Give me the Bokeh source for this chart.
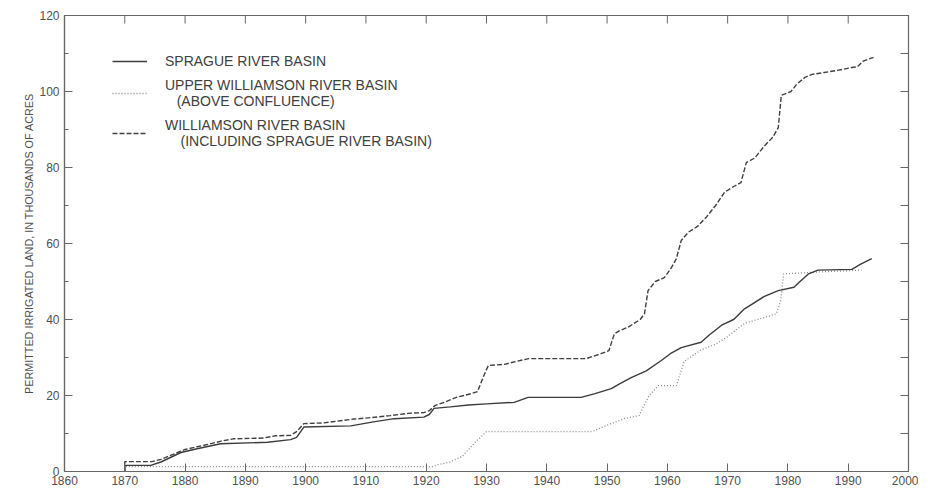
import math
from bokeh.plotting import figure
from bokeh.models import FixedTicker, Legend, LegendItem, ColumnDataSource, Title
from bokeh.embed import file_html
from bokeh.resources import INLINE

# ---- data ----
williamson_years = [1870, 1870, 1874.5, 1876, 1878, 1880, 1882, 1884, 1886, 1888, 1893, 1895,
                    1897.5, 1898.5, 1899.7, 1903, 1905, 1908, 1911, 1914, 1917, 1919.6, 1920.5,
                    1921.5, 1923, 1925, 1927.5, 1928.5, 1929.5, 1930.3, 1933, 1935, 1937, 1946.5,
                    1949, 1950.3, 1951.2, 1952, 1953.5, 1955.5, 1956.2, 1956.8, 1958, 1959.5,
                    1960.7, 1961.5, 1962.3, 1963.5, 1965, 1966.5, 1968, 1969.5, 1971, 1972.2,
                    1973.1, 1974.5, 1976, 1977.5, 1978.4, 1978.9, 1980.5, 1981.5, 1982.8, 1984,
                    1986, 1988, 1990.6, 1991.5, 1992.5, 1994.2]
williamson_vals = [0, 2.6, 2.6, 3.2, 4.5, 5.8, 6.5, 7.2, 8.0, 8.6, 8.8, 9.4,
                   9.5, 10.5, 12.6, 12.8, 13.2, 13.8, 14.2, 14.7, 15.3, 15.5, 16.0,
                   17.4, 18.2, 19.5, 20.5, 21.0, 25.0, 27.9, 28.2, 29.0, 29.7, 29.7,
                   31.0, 31.8, 36.2, 37.0, 38.0, 40.0, 41.5, 47.6, 50.0, 51.0,
                   53.7, 56.0, 60.8, 63.0, 64.5, 67.0, 70.0, 73.5, 75.0, 76.0,
                   81.3, 82.5, 85.5, 88.0, 90.5, 99.0, 100.0, 102.0, 103.7, 104.5,
                   105.0, 105.5, 106.3, 106.5, 108.0, 109.0]

sprague_years = [1870, 1870, 1874.3, 1876, 1879.3, 1882, 1885.9, 1893.7, 1897.5, 1898.5, 1899.7,
                 1907.5, 1911, 1914.7, 1919.6, 1920.5, 1921.3, 1924, 1927, 1930, 1934.6, 1936.9,
                 1945.7, 1948, 1950.7, 1952, 1954, 1956.5, 1959, 1960.5, 1962.3, 1965.6, 1967,
                 1969, 1971, 1972.8, 1974, 1976, 1978.4, 1981, 1982, 1983.4, 1985, 1990.6, 1992,
                 1993.9]
sprague_vals = [0, 1.6, 1.6, 2.5, 5.0, 6.0, 7.3, 7.7, 8.4, 9.0, 11.7,
                12.0, 13.0, 13.9, 14.3, 15.0, 16.6, 17.0, 17.5, 17.8, 18.2, 19.5,
                19.5, 20.5, 21.8, 23.0, 24.7, 26.5, 29.2, 31.0, 32.6, 34.0, 36.0,
                38.5, 40.0, 42.8, 44.0, 46.0, 47.6, 48.5, 50.0, 52.0, 53.0, 53.2, 54.5,
                56.0]

upper_years = [1870, 1870, 1921, 1922, 1924, 1926, 1928, 1930, 1947.5, 1949, 1951, 1953, 1955.3,
               1956, 1957, 1958.5, 1961.5, 1962.8, 1965.6, 1968, 1970, 1972.8, 1975, 1978.1,
               1978.8, 1979.3, 1985, 1992.2]
upper_vals = [0, 1.3, 1.3, 1.8, 2.5, 4.0, 7.5, 10.5, 10.5, 11.5, 12.8, 14.0, 14.7,
              17.0, 20.0, 22.6, 22.6, 29.0, 32.0, 33.5, 35.5, 39.0, 40.0, 41.5,
              45.0, 52.0, 52.5, 53.0]

x_ticks = [1860, 1870, 1880, 1890, 1900, 1910, 1920, 1930, 1940, 1950, 1960, 1970, 1980, 1990, 2000]
y_ticks = [0, 20, 40, 60, 80, 100, 120]
y_minor = [10, 30, 50, 70, 90, 110]
y_right_ticks = [0, 10, 20, 30, 40, 50, 60, 70, 80, 90, 100, 110, 120]
x_min, x_max = 1860, 2000
y_min, y_max = 0, 120

label_sprague = "SPRAGUE RIVER BASIN"
label_upper = "UPPER WILLIAMSON RIVER BASIN\n\u00a0\u00a0\u00a0(ABOVE CONFLUENCE)"
label_will = "WILLIAMSON RIVER BASIN\n\u00a0\u00a0\u00a0\u00a0(INCLUDING SPRAGUE RIVER BASIN)"
y_title = "PERMITTED IRRIGATED LAND, IN THOUSANDS OF ACRES"

FONT = "Liberation Sans"
AX = "#666666"
TXT = "#505050"
W, H = 918, 489

p = figure(width=W, height=H, x_range=(x_min, x_max), y_range=(y_min, y_max),
           output_backend="svg", toolbar_location=None,
           min_border_left=64, min_border_right=10, min_border_top=15, min_border_bottom=18,
           background_fill_color="white", border_fill_color="white")
p.grid.visible = False
p.outline_line_color = AX
p.outline_line_width = 1.2

# bottom axis
xa = p.xaxis[0]
xa.ticker = FixedTicker(ticks=x_ticks, minor_ticks=[])
xa.major_tick_in = 8
xa.major_tick_out = 0
xa.minor_tick_in = 0
xa.minor_tick_out = 0
xa.major_label_standoff = 4
xa.major_label_text_font = FONT
xa.major_label_text_font_size = "12px"
xa.major_label_text_color = TXT
xa.axis_line_color = AX
xa.major_tick_line_color = AX
xa.axis_line_width = 1.2

# left axis
ya = p.yaxis[0]
ya.ticker = FixedTicker(ticks=y_ticks, minor_ticks=y_minor)
ya.major_tick_in = 8
ya.major_tick_out = 0
ya.minor_tick_in = 4
ya.minor_tick_out = 0
ya.major_label_standoff = 5
ya.major_label_text_font = FONT
ya.major_label_text_font_size = "12px"
ya.major_label_text_color = TXT
ya.axis_line_color = AX
ya.major_tick_line_color = AX
ya.minor_tick_line_color = AX
ya.axis_line_width = 1.2

# vertical axis title in the left panel, shifted a little upward like the reference
title_lbl = Title(text=y_title, align="center", offset=24, standoff=3,
                  text_font=FONT, text_font_size="10.8px", text_font_style="normal",
                  text_color=TXT)
p.add_layout(title_lbl, "left")

# tick marks on the top and right edges of the frame (pointing inward, clipped to frame)
p.scatter(x=x_ticks, y=[y_max] * len(x_ticks), marker="dash", angle=math.pi / 2,
          size=16, line_color=AX, line_width=1)
p.scatter(x=[x_max] * len(y_right_ticks), y=y_right_ticks, marker="dash",
          size=16, line_color=AX, line_width=1)

src_s = ColumnDataSource(dict(x=sprague_years, y=sprague_vals))
src_u = ColumnDataSource(dict(x=upper_years, y=upper_vals))
src_w = ColumnDataSource(dict(x=williamson_years, y=williamson_vals))

r_u = p.line("x", "y", source=src_u, line_color="#8a8a8a", line_width=1.3, line_dash="1 2")
r_s = p.line("x", "y", source=src_s, line_color="#3c3c3c", line_width=1.4)
r_w = p.line("x", "y", source=src_w, line_color="#404040", line_width=1.4, line_dash="5 2")

legend = Legend(items=[LegendItem(label=label_sprague, renderers=[r_s]),
                       LegendItem(label=label_upper, renderers=[r_u]),
                       LegendItem(label=label_will, renderers=[r_w])],
                location=(48, 322))
legend.padding = 0
legend.margin = 0
legend.spacing = 8
legend.glyph_width = 35
legend.glyph_height = 12
legend.label_height = 12
legend.label_standoff = 18
legend.label_text_font = FONT
legend.label_text_font_size = "14px"
legend.label_text_color = "#404040"
legend.border_line_alpha = 0
legend.background_fill_alpha = 0
p.add_layout(legend)

open("out.html", "w").write(file_html(p, INLINE))
